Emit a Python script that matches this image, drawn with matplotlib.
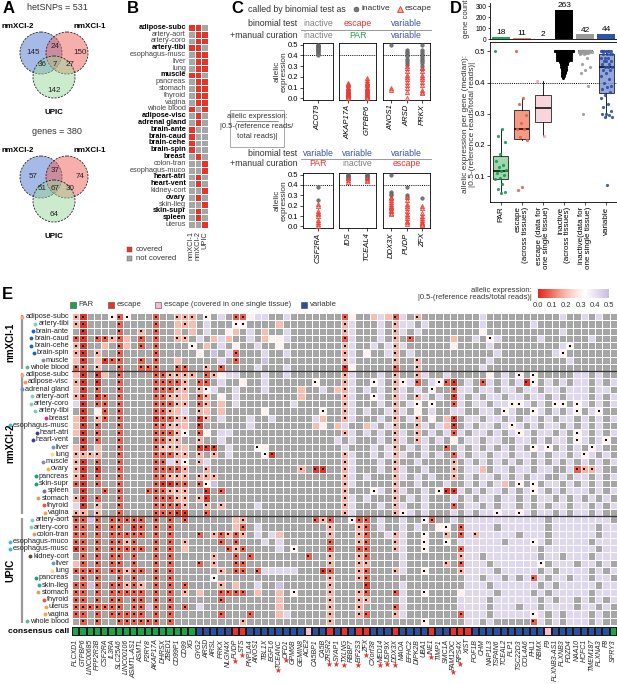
import numpy as np
import matplotlib
matplotlib.use('Agg')
import matplotlib.pyplot as plt
from matplotlib.colors import LinearSegmentedColormap, ListedColormap
from matplotlib.patches import Circle, Rectangle

plt.rcParams['font.family'] = ['Liberation Sans', 'DejaVu Sans']
plt.rcParams['axes.linewidth'] = 0.6
for a in ('xtick', 'ytick'):
    plt.rcParams[a + '.major.width'] = 0.5
    plt.rcParams[a + '.major.size'] = 2
    plt.rcParams[a + '.major.pad'] = 1.2
    plt.rcParams[a + '.labelsize'] = 5.5

# ======================= DATA =======================
# ---- Panel A (Venn region counts: only nmXCI-2, only nmXCI-1, only UPIC, 2&1, 2&U, 1&U, all) ----
venn_names = ['nmXCI-2', 'nmXCI-1', 'UPIC']
snp_regions = [145, 150, 142, 24, 36, 27, 7]
gene_regions = [57, 74, 64, 37, 51, 30, 67]
snp_total = 531
gene_total = 380

# ---- Panel B ----
cov_tissues = ['adipose-subc', 'artery-aort', 'artery-coro', 'artery-tibi', 'esophagus-musc', 'liver',
               'lung', 'muscle', 'pancreas', 'stomach', 'thyroid', 'vagina', 'whole blood',
               'adipose-visc', 'adrenal gland', 'brain-ante', 'brain-caud', 'brain-cehe', 'brain-spin',
               'breast', 'colon-tran', 'esophagus-muco', 'heart-atri', 'heart-vent', 'kidney-cort',
               'ovary', 'skin-lleg', 'skin-supr', 'spleen', 'uterus']
cov_nmxci1 = [1,0,0,1,0,0,0,1,0,0,0,0,1,0,0,1,1,1,1,0,0,0,0,0,0,0,0,0,0,0]
cov_nmxci2 = [1,1,1,1,1,1,1,1,1,1,1,1,0,1,1,0,0,0,0,1,0,0,1,1,0,1,0,1,1,0]
cov_upic   = [0,1,1,0,1,1,1,0,1,1,1,1,1,0,0,0,0,0,0,0,1,1,0,0,1,0,1,0,0,1]
cov_studies = ['nmXCI-1', 'nmXCI-2', 'UPIC']

# ---- Panel C ----
c_top_genes = [['ACOT9'], ['AKAP17A', 'GTPBP6'], ['ANOS1', 'ARSD', 'PRKX']]
c_top_binom = ['inactive', 'escape', 'variable']
c_top_manual = ['inactive', 'PAR', 'variable']
c_bot_genes = [['CSF2RA'], ['IDS', 'TCEAL4'], ['DDX3X', 'PUDP', 'ZFX']]
c_bot_binom = ['variable', 'variable', 'variable']
c_bot_manual = ['PAR', 'inactive', 'escape']
c_inactive = {
    'ACOT9': [0.5, 0.495, 0.49, 0.485, 0.48, 0.47, 0.46, 0.455, 0.45, 0.44, 0.43, 0.42, 0.41, 0.40],
    'ANOS1': [0.5],
    'ARSD': [0.45, 0.43, 0.42, 0.40, 0.39, 0.37, 0.35, 0.33, 0.31],
    'PRKX': [0.5, 0.45, 0.43, 0.41, 0.39, 0.38, 0.36, 0.35, 0.33, 0.30, 0.27],
    'CSF2RA': [0.38, 0.25],
    'IDS': [0.5, 0.495, 0.49, 0.48, 0.47, 0.46],
    'TCEAL4': [0.5, 0.495, 0.49, 0.48, 0.47, 0.46],
    'DDX3X': [0.5, 0.33, 0.31, 0.30],
    'PUDP': [0.38, 0.30, 0.28],
    'ZFX': [0.27],
}
c_escape = {
    'AKAP17A': [0.14, 0.13, 0.12, 0.11, 0.10, 0.09, 0.08, 0.07, 0.065, 0.06, 0.05, 0.045, 0.04, 0.03, 0.025, 0.02, 0.01, 0.0],
    'GTPBP6': [0.19, 0.17, 0.15, 0.14, 0.13, 0.12, 0.11, 0.10, 0.09, 0.08, 0.07, 0.06, 0.05, 0.04, 0.03, 0.02, 0.01, 0.0],
    'ANOS1': [0.10, 0.08],
    'ARSD': [0.30, 0.28, 0.25, 0.22, 0.20, 0.18, 0.15, 0.12, 0.10, 0.06, 0.0],
    'PRKX': [0.28, 0.25, 0.22, 0.20, 0.18, 0.15, 0.12, 0.08, 0.06, 0.05],
    'CSF2RA': [0.22, 0.20, 0.15, 0.13, 0.12, 0.10, 0.06, 0.04, 0.02, 0.0],
    'IDS': [0.47, 0.45, 0.43],
    'TCEAL4': [0.47, 0.45, 0.44],
    'DDX3X': [0.28, 0.27, 0.25, 0.24, 0.22, 0.20, 0.19, 0.18, 0.16, 0.15, 0.13, 0.12],
    'PUDP': [0.28, 0.25, 0.22, 0.20, 0.18, 0.15, 0.12, 0.10, 0.08, 0.05, 0.04, 0.02],
    'ZFX': [0.20, 0.18, 0.13, 0.10, 0.08, 0.06, 0.04, 0.03, 0.02, 0.01],
}

# ---- Panel D ----
d_labels = ['PAR', 'escape\n(across tissues)', 'escape (data for\none single tissue)',
            'inactive\n(across tissues)', 'inactive(data for\none single tissue)', 'variable']
d_counts = [18, 11, 2, 263, 42, 44]
d_par = [0.5, 0.25, 0.23, 0.21, 0.17, 0.15, 0.135, 0.13, 0.12, 0.115, 0.11, 0.105, 0.095, 0.09, 0.075, 0.06, 0.05, 0.045]
d_escape = [0.5, 0.35, 0.33, 0.295, 0.27, 0.25, 0.25, 0.225, 0.215, 0.065, 0.055]
d_escape_single = [0.405, 0.23]
d_inactive_levels = [0.5, 0.495, 0.49, 0.485, 0.48, 0.475, 0.47, 0.465, 0.46, 0.455, 0.45, 0.445, 0.44, 0.435, 0.43, 0.425, 0.42, 0.415]
d_inactive_counts = [60, 40, 35, 25, 20, 16, 14, 11, 9, 7, 6, 5, 4, 3, 3, 2, 2, 1]
d_inactive_single = [0.5]*30 + [0.495]*3 + [0.49]*2 + [0.48, 0.46, 0.45, 0.44, 0.43, 0.39, 0.30]
d_variable = [0.5]*8 + [0.49]*4 + [0.48]*3 + [0.47]*3 + [0.46]*2 + [0.45]*3 + [0.44]*2 + \
             [0.43, 0.42, 0.41, 0.40, 0.39, 0.385, 0.38, 0.37, 0.36, 0.35, 0.33, 0.32, 0.31, 0.30, 0.30, 0.295, 0.29, 0.29, 0.07]

# ---- Panel E ----
genes = ['PLCXD1', 'GTPBP6', 'LINC00685', 'PPP2R3B', 'CSF2RA', 'IL3RA', 'SLC25A6', 'LINC00106', 'ASMTL-AS1', 'ASMTL',
         'P2RY8', 'AKAP17A', 'DHRSX', 'ZBED1', 'CD99P1', 'CD99', 'XG', 'GYG2', 'ARSD', 'ARSL',
         'PRKX', 'NLGN4X', 'PUDP', 'STS', 'PNPLA4', 'ANOS1', 'TBL1X', 'EGFL6', 'TCEANC', 'OFD1',
         'GPM6B', 'GEMIN8', 'ACE2', 'CA5BP1', 'CA5B', 'ZRSR2', 'SYAP1', 'TXLNG', 'RBBP7', 'EIF2S3',
         'ZFX', 'CXorf38', 'MED14', 'USP9X', 'DDX3X', 'MAOA', 'EFHC2', 'DIPK2B', 'UBA1', 'INE1',
         'TIMP1', 'SMC1A', 'FAM120C', 'RPS4X', 'XIST', 'POF1B', 'CHM', 'NAP1L3', 'TSPAN6', 'TCEAL2',
         'PLP1', 'TSC22D3', 'COL4A6', 'FHL1', 'RBMX', 'F9', 'PLXNB3-AS1', 'PLXNB3', 'PDZD4', 'NAA10',
         'HCFC1', 'TMEM187', 'PLXNA3', 'F8', 'SPRY3']
# P = PAR, E = escape, S = escape (one single tissue), V = variable
consensus = ('PPPPPPPPPPPPPPPPP' 'VVVVV' 'EE' 'VVVVVVVV' 'S' 'VV' 'E' 'V' 'E' 'V' 'EE' 'VVV' 'E'
             'VVVV' 'E' 'VV' 'EEE' 'VVVVVVVVVV' 'S' 'VVVVVVVV' 'P')
starred = ['PUDP', 'STS', 'TCEANC', 'OFD1', 'ZRSR2', 'SYAP1', 'TXLNG', 'EIF2S3', 'ZFX', 'MED14',
           'USP9X', 'DDX3X', 'INE1', 'FAM120C', 'RPS4X']
groups = ['nmXCI-1', 'nmXCI-2', 'UPIC']
group_sizes = [8, 20, 15]
tissues = ['adipose-subc', 'artery-tibi', 'brain-ante', 'brain-caud', 'brain-cehe', 'brain-spin', 'muscle', 'whole blood',
           'adipose-subc', 'adipose-visc', 'adrenal gland', 'artery-aort', 'artery-coro', 'artery-tibi', 'breast',
           'esophagus-musc', 'heart-atri', 'heart-vent', 'liver', 'lung', 'muscle', 'ovary', 'pancreas', 'skin-supr',
           'spleen', 'stomach', 'thyroid', 'vagina',
           'artery-aort', 'artery-coro', 'colon-tran', 'esophagus-muco', 'esophagus-musc', 'kidney-cort', 'liver',
           'lung', 'pancreas', 'skin-lleg', 'stomach', 'thyroid', 'uterus', 'vagina', 'whole blood']
tissue_colors = ['#f4a582', '#80cdc1', '#2166ac', '#2166ac', '#2166ac', '#2166ac', '#8a8aa6', '#5fb3a0',
                 '#f4a582', '#f09868', '#6f8fc8', '#80cdc1', '#80cdc1', '#80cdc1', '#e7298a', '#3cbfd6',
                 '#3b3f8f', '#3b3f8f', '#6f98c0', '#fdd49e', '#8a8aa6', '#f5b342', '#1b9e77', '#1b9e77',
                 '#6a6fb8', '#d9a066', '#e8563a', '#f5a742',
                 '#80cdc1', '#80cdc1', '#d9a066', '#3cbfd6', '#3cbfd6', '#5a4a3a', '#6f98c0', '#fdd49e',
                 '#1b9e77', '#33a6a0', '#d9a066', '#e8563a', '#f5a742', '#f5a742', '#5fb3a0']
# cell codes: '.' not covered; digits 0-5 = allelic expression level; letters a-e = same levels with a dot
heat_codes = [
    "ca...dbd.. .b..ccc.d. 4.bb344..4 .......b3. .242b4.c.. ......4... .......4.. 4.4..",
    "ca....b... .b..2c2.4. ..dd....2. .......c4. ..4.c44.4. ......4... ...4...... .....",
    ".a....b..c .b..2.2.4. .32.4.2..4 .......c4. ..4.c4.4.. ......3... .......4.. .....",
    "ba.bbcb2.b .b..cc.4.2 42..4.2334 .......b4. ..4.c.b... ..2..4.d4. ....4..... .4...",
    "ca..2.b2.b .b....d.2. 4.3..4..3. .......c4. .4.4c4.... ..3....4.. .......4d. .....",
    "ca.c..b... .b.....3.5 .4b...4..4 .......c4. 3..4c.4... ........4. ......4d.. .....",
    "2a.2abb..b .b..2..... 4.b...5... .......c4. ....c..c.. .......4.. ........4. .....",
    "bb.c..b..b bb..bb..c. b....4...4 .......a3. ....b..c.. ......4... .......... .....",
    "2a.a2.b... .bbcccc.bc 344...4..4 .......c4. ..4.c..c4. .4.....3.4 .d.d.....4 4.4..",
    "ca.a..b... .bbbbc.bb. 4..3..4... ...d...c4. .d4.cd4b.4 dba.4.b4.4 .4ad.4.4.4 4.4.4",
    "2a.b..b... .bbbcc.cd4 ..4...4... .2..4.2c4. 4.4.c4.4.d ..b44.44.4 4.44.44.44 4.44.",
    "ca.ab.b... .bbcc2.bc. 3.4....... .2.....c4. .d4.c4.c4. 4.a4.4.44. 44.44.4.44 4.4.4",
    "4a.bb.b... .bbbcc.bc. 2.4....... 4......c4. ..4.c.4d.d ..b4.44.44 dd4.4.dd.d 4.4.4",
    ".a.3b.b... .bbc24.c2. 2.....3... ....d..c4. 4..4c4.3.4 ..44..44.d 4..d4.4.4d .4d..",
    "2a.cb.b... .abbcc.ac. 4...4..4.. ...42..c4. ..4.c.4c.3 .2a.44.44. 4.44.4.44. 4.4.4",
    "2a.b..b... .bbcc2.a.. ....4..... ...23.24.. 24.4c..c4. 42a.4.44.4 d4.4.44.4. 4.4..",
    "2a.b..b... .bbbcd.b3. 44........ .......c4. 4.4.c4.c.4 .4b4.44.4. 4d4.44.4.d 4.4.4",
    ".a.b..b... .bbcc..c.. 4......... ......4.4. ..4.c4.c4. 4.3.44.44. .44.4.44.d 4.4d.",
    "2a.2..b... .bccc2.aaa .4...d3... .......4.. .4.4c.4.4. .b.4.4.4.4 .4.d4d.4.4 .d4..",
    "cccc..b... .bbbcc.c.c .4....da.. .......c4. .4.4c4..4. 4.b4.44.44 .44.4.44.4 d4.4.",
    "ca.b..b... .bb4cd.c4. .......... .......c4. ..4.c..4.. ..c.4.4.4. 4.4.4.4.4. 4.4.4",
    "ca.a..b... .bbbbc..c. .......... .c.aa..c4. ..4.c4..4. ..c.442.44 .44.44..4b cc4..",
    "ca.b..b... .bbccc.ccc .......... .......c4. 4...c4.4.4 ..c.4.44.4 .4.44..4.4 4.4.4",
    "ba.b..b... .baabb.bd5 .......... .......c4. ....c..4.. .4..4.4.42 .d.d.44.4. 4.4..",
    ".a..b.b... bbbccc..a. b......... .......c.. .d4.c4..4. daa4.4.44. 4.4d4.4.44 4.4.4",
    "ca.b..b... .bbbcc.ca. .......... .......c4. 4...c.4.4. ..4.4.44.4 4.4.44.4.4 .4.4.",
    "4a.c..b... .bbbbc..c. c....4.... .......c4. ..4.c4..4. ..b.44.4.4 4.4.4.44.4 4.4.4",
    "cc.c..b... .bbbaa..b. .......... .......c4. ....cd4.4. ..4.4.44d4 4d4.44.4.4 4.4..",
    "bb5b.bbbbb .b.b.b.... ..2c...... ...bcb..db b.4..4..db ..4.444444 44444.4444 4444.",
    "bb.b.bb.ab .b.b...... ..2b.4.... .....c...c b.4..4.4.. 3d.b4444.4 44444.4444 44.44",
    "bb.b.bbbbb .b.b...b.c bcbc.4.42. .....c...c b..4c4..d. .c.b4c4444 4.444.4444 44.44",
    "bb.b.bbcb. .b.b.c.... b.b...4.4. .....b...c b...c4..d. .d.444444. 444d4.4444 4.444",
    "ab.b.bbbbb .b.b.2.... .bcb....4. d....b...b b...c4..d. ...b444444 4444.44444 44.44",
    ".b.b.bb.b. .b.b.....c ..b.b..... ..b..c...c b....4.... ...c44.444 4444.44.44 4.444",
    "2b.b.bb.b. .b.b...b.c ..bb...... .....c...c c....4.... .c.b444.44 4444d.444. 44.4.",
    "bbbb.bbcbb .b.b...... c.bb.b4444 4...ab...c b...c4..d. ...c4444.4 4444.4.444 4.4.4",
    ".b.b..b.b. .b.b.....d .......... .....c...c b......... ....44.44. 4.4b4.44.4 4.44.",
    "bb5b.bbcbc .b.b.b.... c.2..4..5. .....c.... a....4.... ....444.44 4444.4.444 44.44",
    "bb.b.bbbbb .b.b.c.2.. bbbb.2..2. d....c...c b...b4..d. ...34444.4 444.4.4444 4.444",
    "bb.b.bb.bb .b.b...... b.......2. .....c...c c....4.... ...4444.44 4444.4.44. 4.4.4",
    "bbbbbbb.bb 5b.b.b.4.. ........2. .....c...c ....b4.... ...4444.44 4.44.4444. 44.4.",
    "bb.b.bbbbb .b.b...... b...b...24 .....c...c b...c4.... ...b444.44 444d4.4.44 4.4..",
    ".b.b..bbbb bb.b...... ...c...... .....c.... ........d. ....44.4.. ...b4.4.44 4.4..",
]
level_values = {'0': 0.02, '1': 0.08, '2': 0.2, '3': 0.3, '4': 0.43, '5': 0.49,
                'a': 0.02, 'b': 0.08, 'c': 0.18, 'd': 0.3, 'e': 0.43}

# ======================= FIGURE =======================
W, H = 617, 684
fig = plt.figure(figsize=(W / 100, H / 100), dpi=100)
ov = fig.add_axes([0, 0, 1, 1])
ov.set_xlim(0, W); ov.set_ylim(H, 0); ov.axis('off')


def axpx(x0, y0, x1, y1):
    return fig.add_axes([x0 / W, 1 - y1 / H, (x1 - x0) / W, (y1 - y0) / H])


RED = '#e8332a'; GRAY = '#a6a6a6'; BLUE = '#3a55a8'; GREEN = '#22a04a'; PINK = '#f5c0cb'

# panel letters
for s, x, y in [('A', 3, 1), ('B', 127, 1), ('C', 231, 1), ('D', 450, 1), ('E', 2, 287)]:
    ov.text(x, y, s, fontsize=12, fontweight='bold', va='top', ha='left')

# ---------------- Panel A ----------------
def venn(cy, regions, title, total):
    cols = ['#4f77d0', '#f0605a', '#9bd79a']
    centers = [(41, cy), (67, cy), (54, cy + 24)]
    for (cx, cyy), c in zip(centers, cols):
        ov.add_patch(Circle((cx, cyy), 21, facecolor=c, alpha=0.5, edgecolor='none'))
        ov.add_patch(Circle((cx, cyy), 21, facecolor='none', edgecolor='#222222', lw=0.6, ls=(0, (2.5, 1.5))))
    pos = [(33, cy), (80, cy), (54, cy + 37), (55, cy - 7), (42, cy + 12), (70, cy + 12), (55, cy + 11)]
    for (x, y), v in zip(pos, regions):
        ov.text(x, y, str(v), fontsize=5.8, ha='center', va='center', color='#222222')
    ov.text(57, cy - 46, f'{title} = {total}', fontsize=6.5, ha='center', va='center', color='#333333')
    ov.text(18, cy - 26, venn_names[0], fontsize=5.8, fontweight='bold', ha='center', va='center')
    ov.text(90, cy - 26, venn_names[1], fontsize=5.8, fontweight='bold', ha='center', va='center')
    ov.text(54, cy + 59, venn_names[2], fontsize=5.8, fontweight='bold', ha='center', va='center')

venn(53, snp_regions, 'hetSNPs', snp_total)
venn(177, gene_regions, 'genes', gene_total)

# ---------------- Panel B ----------------
axb = axpx(188, 24, 208, 228)
cov = np.array([cov_nmxci1, cov_nmxci2, cov_upic]).T
axb.pcolormesh(cov, cmap=ListedColormap([GRAY, RED]), vmin=0, vmax=1, edgecolors='white', linewidth=0.5)
axb.set_xlim(0, 3); axb.set_ylim(len(cov_tissues), 0); axb.axis('off')
rowh = 204 / len(cov_tissues)
for i, t in enumerate(cov_tissues):
    bold = cov_upic[i] == 0
    ov.text(186, 24 + (i + 0.5) * rowh, t, fontsize=5.3, ha='right', va='center',
            fontweight='bold' if bold else 'normal', color='black' if bold else '#444444')
for j, s in enumerate(cov_studies):
    ov.text(188 + (j + 0.5) * 20 / 3, 231, s, fontsize=5.3, rotation=90, ha='center', va='top', color='#333333')
ov.add_patch(Rectangle((127, 247), 5, 5, facecolor=RED, edgecolor='#555555', lw=0.3))
ov.text(136, 249.5, 'covered', fontsize=5.5, va='center', color='#333333')
ov.add_patch(Rectangle((127, 256), 5, 5, facecolor=GRAY, edgecolor='#555555', lw=0.3))
ov.text(136, 258.5, 'not covered', fontsize=5.5, va='center', color='#333333')

# ---------------- Panel C ----------------
lab_col = {'inactive': '#808080', 'escape': RED, 'variable': BLUE, 'PAR': GREEN}
ov.text(248, 9, 'called by binomial test as', fontsize=6.3, va='center', color='#333333')
ov.plot(356, 9, 'o', ms=3.5, mfc='#777777', mec='#444444', mew=0.4)
ov.text(361, 9, 'inactive', fontsize=6, va='center', color='#333333')
ov.plot(400, 9, '^', ms=4, mfc='#f7a8a0', mec=RED, mew=0.6)
ov.text(405, 9, 'escape', fontsize=6, va='center', color='#333333')

boxes_x = [(303, 333), (339, 376), (383, 430)]


def c_row(y0, y1, hy, groups_, binom, manual, manual_colors):
    ov.text(297, hy, 'binomial test', fontsize=6.3, ha='right', va='center', color='#333333')
    ov.text(297, hy + 11, '+manual curation', fontsize=6.3, ha='right', va='center', color='#333333')
    ov.plot([301, 431], [hy + 5.5, hy + 5.5], color='#888888', lw=0.6)
    for k, ((x0, x1), gl, b, m, mc) in enumerate(zip(boxes_x, groups_, binom, manual, manual_colors)):
        cx = (x0 + x1) / 2
        ov.text(cx, hy, b, fontsize=6.3, ha='center', va='center', color=lab_col[b])
        ov.text(cx, hy + 11, m, fontsize=6.3, ha='center', va='center', color=mc)
        ax = axpx(x0, y0, x1, y1)
        for i, g in enumerate(gl):
            iv = c_inactive.get(g, [])
            ev = c_escape.get(g, [])
            ax.plot([i + 0.5] * len(iv), iv, 'o', ms=2.6, mfc='#777777', mec='#555555', mew=0.3, zorder=3)
            ax.plot([i + 0.5] * len(ev), ev, '^', ms=3.0, mfc=(1, 0.55, 0.55, 0.6), mec=RED, mew=0.5, zorder=4)
        ax.axhline(0.4, color='k', ls=(0, (1, 1.2)), lw=0.7, zorder=1)
        ax.set_xlim(0, len(gl)); ax.set_ylim(-0.015, 0.515)
        ax.set_xticks([i + 0.5 for i in range(len(gl))])
        ax.set_xticklabels(gl, rotation=90, fontsize=5.5, style='italic')
        if k == 0:
            ax.set_yticks([0, 0.1, 0.2, 0.3, 0.4, 0.5])
            ax.set_yticklabels(['0.0', '0.1', '0.2', '0.3', '0.4', '0.5'])
        else:
            ax.set_yticks([])
    ov.text(281, (y0 + y1) / 2, 'allelic\nexpression', fontsize=6, rotation=90, ha='center', va='center',
            color='#333333', linespacing=1.0)


c_row(43, 100, 24, c_top_genes, c_top_binom, c_top_manual, [lab_col[m] for m in c_top_manual])
c_row(173, 228, 153, c_bot_genes, c_bot_binom, c_bot_manual, [RED, '#808080', RED])

ov.add_patch(Rectangle((230, 110), 54, 37, facecolor='none', edgecolor='#999999', lw=0.6))
ov.text(257, 117, 'allelic expression:', fontsize=5.5, ha='center', va='center', color='#333333')
ov.plot([236, 278], [120.5, 120.5], color='#333333', lw=0.4)
ov.text(257, 127, '|0.5-(reference reads/', fontsize=5.5, ha='center', va='center', color='#333333')
ov.text(257, 136, 'total reads)|', fontsize=5.5, ha='center', va='center', color='#333333')

# ---------------- Panel D ----------------
d_cols = ['#1a9a50', '#e8604c', '#f2a6b8', '#000000', '#9a9a9a', '#2c4fa3']
d_bar_cols = ['#1fa555', '#f07a70', '#f4b6c2', '#000000', '#999999', '#2d53a8']
d_box_face = ['#8fd19e', '#f08a70', '#f9cdd8', '#000000', '#ffffff', '#8397d2']

axt = axpx(490, 3, 617, 39)
xpos = np.arange(1, 7)
axt.bar(xpos, d_counts, width=0.85, color=d_bar_cols)
for x, c in zip(xpos, d_counts):
    axt.text(x, c + 8, str(c), ha='center', va='bottom', fontsize=6)
axt.set_xlim(0.5, 6.5); axt.set_ylim(0, 330)
axt.set_xticks([]); axt.set_yticks([0, 100, 200, 300])
axt.tick_params(axis='y', labelsize=4.8, length=1.5, pad=0.8)
for s in ('top', 'right'):
    axt.spines[s].set_visible(False)
ov.text(466, 19, 'gene count', fontsize=5.6, rotation=90, ha='center', va='center', color='#333333')

axd = axpx(490, 42, 617, 202)
d_inactive = []
for v, n in zip(d_inactive_levels, d_inactive_counts):
    d_inactive += [v] * n
d_data = [d_par, d_escape, d_escape_single, d_inactive, d_inactive_single, d_variable]
bp = axd.boxplot(d_data, positions=xpos, widths=0.72, patch_artist=True, showfliers=False, showcaps=False,
                 medianprops=dict(color='k', lw=1.1), whiskerprops=dict(lw=0.6), boxprops=dict(lw=0.6))
for patch, fc, i in zip(bp['boxes'], d_box_face, range(6)):
    patch.set_facecolor(fc)
    patch.set_edgecolor('#999999' if i == 4 else 'k')
    if i in (0, 1, 2, 5):
        patch.set_alpha(0.85)
golden = 0.6180339887
for i, vals in enumerate(d_data):
    vals = np.asarray(vals)
    if i == 3:
        xs, ys = [], []
        for v, n in zip(d_inactive_levels, d_inactive_counts):
            wdt = 0.42 * (n / 60) ** 0.5
            for k in range(n):
                xs.append(xpos[i] + ((k * golden) % 1 - 0.5) * 2 * wdt)
                ys.append(v)
        axd.plot(xs, ys, 'o', ms=2.2, color='k', mew=0, zorder=3)
    else:
        offs = np.array([((k * golden) % 1 - 0.5) * 0.55 for k in range(len(vals))])
        axd.plot(xpos[i] + offs, vals, 'o', ms=2.3, color=d_cols[i], mew=0, zorder=3, alpha=0.9)
axd.axhline(0.4, color='k', ls=(0, (1, 1.2)), lw=0.7, zorder=1)
axd.set_xlim(0.5, 6.5); axd.set_ylim(0.017, 0.53)
axd.set_yticks([0.1, 0.2, 0.3, 0.4, 0.5])
axd.set_xticks(xpos)
axd.set_xticklabels(d_labels, rotation=90, ha='right', va='center', rotation_mode='anchor',
                    multialignment='right', fontsize=5.8, linespacing=1.0)
ov.text(469, 124, 'allelic expression per gene (median):\n|0.5-(reference reads/total reads)|', fontsize=6,
        rotation=90, ha='center', va='center', color='#333333', linespacing=1.0)

# ---------------- Panel E ----------------
HX0, HX1, HY0, HY1 = 72, 617, 313, 625
nr, nc = len(heat_codes), len(genes)
cw, rh = (HX1 - HX0) / nc, (HY1 - HY0) / nr
vals = np.full((nr, nc), np.nan)
dot_x, dot_y = [], []
for r, s in enumerate(heat_codes):
    s = (s.replace(' ', '') + '.' * nc)[:nc]
    for c, ch in enumerate(s):
        if ch == '.':
            continue
        vals[r, c] = level_values[ch]
        if ch.isalpha():
            dot_x.append(c + 0.5); dot_y.append(r + 0.5)

cmap_ae = LinearSegmentedColormap.from_list(
    'ae', ['#e3261c', '#ee6350', '#f7a898', '#fcdcd4', '#ffffff', '#e4ddf0', '#c8bde1']).with_extremes(bad=GRAY)
axh = axpx(HX0, HY0, HX1, HY1)
axh.pcolormesh(np.ma.masked_invalid(vals), cmap=cmap_ae, vmin=0, vmax=0.5, edgecolors='white', linewidth=0.55)
axh.scatter(dot_x, dot_y, s=1.3, c='k', marker='s', linewidths=0, zorder=3)
axh.set_xlim(0, nc); axh.set_ylim(nr, 0); axh.axis('off')
bounds = np.cumsum(group_sizes)
for b in bounds[:-1]:
    axh.axhline(b, color='#333333', lw=0.9, zorder=4)

tissue_texts = []
for r, t in enumerate(tissues):
    tissue_texts.append(ov.text(69, HY0 + (r + 0.5) * rh, t, fontsize=5.3, ha='right', va='center', color='#222222'))
start = 0
for g, n in zip(groups, group_sizes):
    ya, yb = HY0 + start * rh + 2, HY0 + (start + n) * rh - 2
    ov.plot([22, 22], [ya, yb], color='#999999', lw=1.6, solid_capstyle='butt')
    ov.text(10, (ya + yb) / 2, g, fontsize=7, fontweight='bold', rotation=90, ha='center', va='center')
    start += n

# consensus bar
cons_map = {'P': 0, 'E': 1, 'S': 2, 'V': 3}
cons_cols = ['#1fa34a', RED, PINK, '#2d4fa0']
axc = axpx(HX0, 627, HX1, 636)
axc.pcolormesh(np.array([[cons_map[c] for c in consensus]]), cmap=ListedColormap(cons_cols), vmin=-0.5, vmax=3.5,
               edgecolors='#1a1a1a', linewidth=0.35)
axc.set_xlim(0, nc); axc.set_ylim(1, 0); axc.axis('off')
ov.text(69, 631.5, 'consensus call', fontsize=6, fontweight='bold', ha='right', va='center')
gene_texts = []
for i, g in enumerate(genes):
    gene_texts.append(ov.text(HX0 + (i + 0.5) * cw, 639, g, fontsize=5, rotation=90, ha='center', va='top',
                              style='italic', color='#222222'))

# legend row
leg = [(70, '#1fa34a', 'PAR'), (108, RED, 'escape'), (155, PINK, 'escape (covered in one single tissue)'),
       (301, '#2d4fa0', 'variable')]
for x, c, s in leg:
    ov.add_patch(Rectangle((x, 302), 6, 6, facecolor=c, edgecolor='#444444', lw=0.4))
    ov.text(x + 8.5, 305, s, fontsize=5.5, va='center', color='#333333')

# colorbar
CB0, CB1 = 538, 609
axcb = axpx(CB0, 289, CB1, 298)
axcb.imshow(np.linspace(0, 0.5, 256)[None, :], aspect='auto', cmap=cmap_ae, vmin=0, vmax=0.5,
            extent=[0, 0.5, 0, 1])
axcb.axis('off')
for k, v in enumerate([0.0, 0.1, 0.2, 0.3, 0.4, 0.5]):
    ov.text(CB0 + v / 0.5 * (CB1 - CB0), 305.5, f'{v:.1f}', fontsize=5.5, ha='center', va='center', color='#333333')
ov.text(532, 290, 'allelic expression:', fontsize=5.5, ha='right', va='center', color='#333333')
ov.text(532, 297.5, '|0.5-(reference reads/total reads)|', fontsize=5.5, ha='right', va='center', color='#333333')

# ---- post-layout: tissue dots and stars ----
fig.canvas.draw()
rend = fig.canvas.get_renderer()
inv = ov.transData.inverted()
for t, col in zip(tissue_texts, tissue_colors):
    bb = t.get_window_extent(rend)
    x0, yc = inv.transform((bb.x0, (bb.y0 + bb.y1) / 2))
    ov.plot(x0 - 3, yc, 'o', ms=2.8, color=col, mec='none')
for t, g in zip(gene_texts, genes):
    if g in starred:
        bb = t.get_window_extent(rend)
        xc, yb = inv.transform(((bb.x0 + bb.x1) / 2, bb.y0))
        ov.text(xc - 0.8, yb + 0.5, '★', fontsize=5.5, color=RED, ha='center', va='top')

fig.savefig('out.png', dpi=100)
